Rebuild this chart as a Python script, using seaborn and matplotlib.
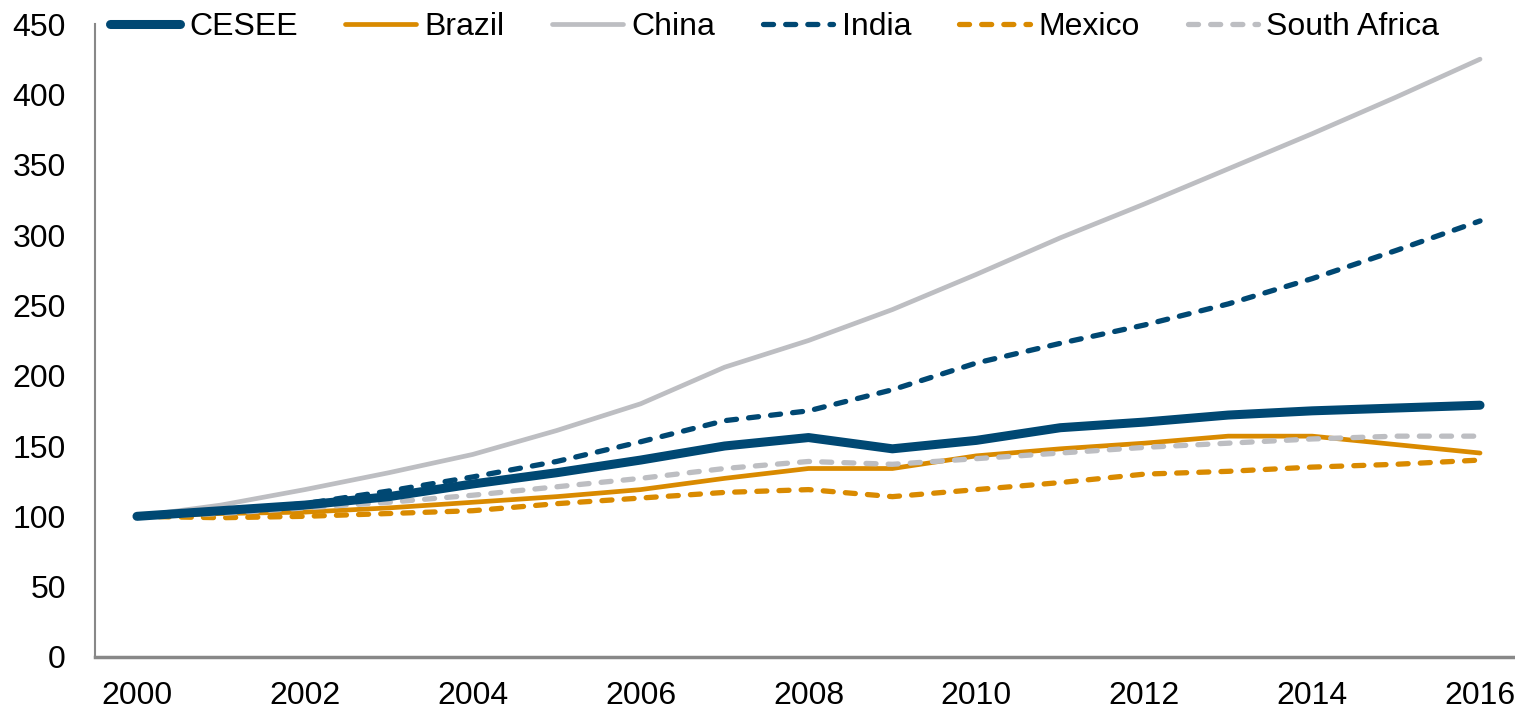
import matplotlib
matplotlib.use("Agg")
import matplotlib.pyplot as plt
import seaborn as sns
import pandas as pd

years = list(range(2000, 2017))
cesee = [100, 104, 108, 114, 123, 131, 140, 150, 156, 148, 154, 163, 167, 172, 175, 177, 179]
brazil = [100, 102, 103, 106, 110, 114, 119, 127, 134, 134, 143, 148, 152, 157, 157, 151, 145]
china = [100, 108, 119, 131, 144, 161, 180, 206, 225, 247, 272, 298, 322, 347, 372, 398, 425]
india = [100, 104, 109, 118, 128, 139, 153, 168, 175, 190, 209, 223, 236, 251, 269, 289, 310]
mexico = [100, 99, 100, 102, 104, 109, 113, 117, 119, 114, 119, 124, 130, 132, 135, 137, 140]
south_africa = [100, 102, 106, 110, 115, 121, 127, 134, 139, 137, 141, 145, 149, 152, 155, 157, 157]

series_names = ["CESEE", "Brazil", "China", "India", "Mexico", "South Africa"]
series_values = [cesee, brazil, china, india, mexico, south_africa]

navy = "#004873"
orange = "#D98A00"
gray = "#BDBEC2"
styles = {
    "CESEE": dict(color=navy, lw=6.5, dashed=False),
    "Brazil": dict(color=orange, lw=3.4, dashed=False),
    "China": dict(color=gray, lw=3.4, dashed=False),
    "India": dict(color=navy, lw=3.8, dashed=True),
    "Mexico": dict(color=orange, lw=3.8, dashed=True),
    "South Africa": dict(color=gray, lw=3.8, dashed=True),
}

sns.set_style("white")
plt.rcParams["font.family"] = ["Liberation Sans", "DejaVu Sans"]
plt.rcParams["text.color"] = "black"

fig = plt.figure(figsize=(15.15, 7.12), dpi=100)
ax = fig.add_axes([95 / 1515, 55 / 712, 1427 / 1515, 633 / 712])

draw_order = ["China", "India", "Brazil", "Mexico", "South Africa", "CESEE"]
handles = {}
for name in draw_order:
    vals = series_values[series_names.index(name)]
    df = pd.DataFrame({"year": years, "value": vals})
    st = styles[name]
    before = len(ax.lines)
    sns.lineplot(data=df, x="year", y="value", ax=ax, color=st["color"],
                 linewidth=st["lw"], label=name, legend=False)
    line = ax.lines[before]
    line.set_solid_capstyle("round")
    line.set_solid_joinstyle("round")
    if st["dashed"]:
        line.set_dashes((1.9, 2.3))
        line.set_dash_capstyle("round")
    handles[name] = line

ax.set_xlim(1999.5, 2016.5)
ax.set_ylim(0, 450)
ax.set_xticks(list(range(2000, 2017, 2)))
ax.set_yticks(list(range(0, 451, 50)))
ax.set_xlabel("")
ax.set_ylabel("")
ax.tick_params(axis="x", length=0, labelsize=23, pad=17, labelcolor="black")
ax.tick_params(axis="y", length=7, width=1.5, color="#888888", labelsize=23,
               pad=14, direction="out", labelcolor="black")
for s in ["top", "right"]:
    ax.spines[s].set_visible(False)
ax.spines["left"].set_color("#888888")
ax.spines["left"].set_linewidth(1.5)
ax.spines["bottom"].set_color("#888888")
ax.spines["bottom"].set_linewidth(2.5)
ax.grid(False)

leg = ax.legend([handles[n] for n in series_names], series_names, ncol=6,
                loc="center left", bbox_to_anchor=(0.0105, 0.995), frameon=False,
                fontsize=23, handlelength=2.2, handletextpad=0.27,
                columnspacing=1.5, borderaxespad=0, borderpad=0)
for t in leg.get_texts():
    t.set_color("black")

fig.savefig("out.png", dpi=100, facecolor="white")
